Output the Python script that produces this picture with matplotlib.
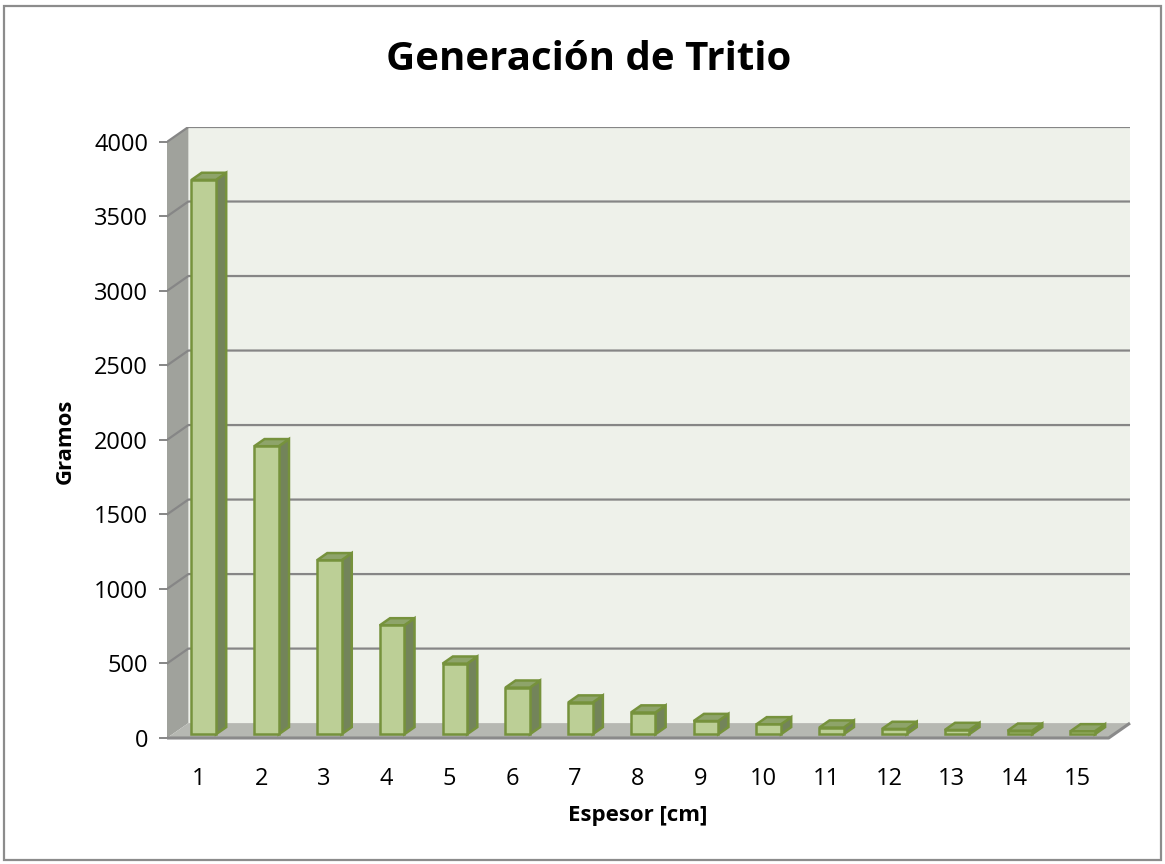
import matplotlib
matplotlib.use('Agg')
import matplotlib.pyplot as plt
from matplotlib.patches import Polygon, Rectangle

plt.rcParams['font.family'] = ['Open Sans', 'DejaVu Sans']

# tritium generated per blanket thickness
espesor = [1, 2, 3, 4, 5, 6, 7, 8, 9, 10, 11, 12, 13, 14, 15]
gramos = [3720, 1933, 1168, 731, 474, 313, 213, 146, 89, 67, 45, 36, 29, 24, 20]
y_ticks = [0, 500, 1000, 1500, 2000, 2500, 3000, 3500, 4000]

# oblique offset used to fake the 3D box (x in categories, y in grams)
DX = 0.34
DY = 100.0
Z0, Z1 = 0.25, 0.73   # front/back depth of the columns inside the box
BAR_W = 0.39

wall_c = '#eef1ea'
side_c = '#a0a29c'
floor_c = '#b6b8b2'
grid_c = '#868686'
face_c = '#bccf96'
top_c = '#8ea46a'
dark_c = '#73845a'
edge_c = '#76923c'

fig = plt.figure(figsize=(11.65, 8.64), dpi=100)
ax = fig.add_axes([167 / 1165, 126 / 864, 963 / 1165, 611 / 864])
ymax = y_ticks[-1]
x_lo, x_hi = espesor[0] - 0.5, espesor[-1] + 0.5

# back wall, side wall and floor
ax.add_patch(Rectangle((x_lo + DX, DY), x_hi - x_lo, ymax, fc=wall_c, ec='none', zorder=0))
ax.add_patch(Polygon([(x_lo, 0), (x_lo, ymax), (x_lo + DX, ymax + DY), (x_lo + DX, DY)],
                     closed=True, fc=side_c, ec='none', zorder=1))
ax.add_patch(Polygon([(x_lo, 0), (x_hi, 0), (x_hi + DX, DY), (x_lo + DX, DY)],
                     closed=True, fc=floor_c, ec='none', zorder=1))
ax.plot([x_lo, x_hi, x_hi + DX], [0, 0, DY], color='#8a8a8a', lw=2.2,
        solid_capstyle='butt', clip_on=False, zorder=2)

# gridlines run across the back wall and fold down the side wall
for v in y_ticks[1:]:
    ax.plot([x_lo, x_lo + DX, x_hi + DX], [v, v + DY, v + DY], color=grid_c, lw=1.6, zorder=2)

# columns
dxb = (Z1 - Z0) * DX
dyb = (Z1 - Z0) * DY
for x, v in zip(espesor, gramos):
    x0 = x - BAR_W / 2 + Z0 * DX
    x1 = x0 + BAR_W
    y0 = Z0 * DY
    y1 = y0 + v
    side = [(x1, y0), (x1 + dxb, y0 + dyb), (x1 + dxb, y1 + dyb), (x1, y1)]
    top = [(x0, y1), (x1, y1), (x1 + dxb, y1 + dyb), (x0 + dxb, y1 + dyb)]
    front = [(x0, y0), (x1, y0), (x1, y1), (x0, y1)]
    ax.add_patch(Polygon(side, closed=True, fc=dark_c, ec=edge_c, lw=1.8, zorder=3))
    ax.add_patch(Polygon(top, closed=True, fc=top_c, ec=edge_c, lw=1.8, zorder=3))
    ax.add_patch(Polygon(front, closed=True, fc=face_c, ec=edge_c, lw=1.8, zorder=4))

ax.set_xlim(x_lo, x_hi + DX)
ax.set_ylim(0, ymax + DY)
for s in ax.spines.values():
    s.set_visible(False)
ax.patch.set_visible(False)

ax.set_yticks(y_ticks)
ax.set_yticklabels([str(t) for t in y_ticks])
ax.tick_params(axis='y', length=5.5, width=1.4, color=grid_c, pad=8, labelsize=17)
ax.set_xticks(espesor)
ax.set_xticklabels([str(e) for e in espesor])
ax.tick_params(axis='x', length=0, pad=21, labelsize=17)

fig.text(589 / 1165, 1 - 60 / 864, 'Generación de Tritio', ha='center', va='center',
         fontsize=29, fontweight='bold')
fig.text(65 / 1165, 1 - 441 / 864, 'Gramos', ha='center', va='center', rotation=90,
         fontsize=16, fontweight='bold')
fig.text(638 / 1165, 1 - 815 / 864, 'Espesor [cm]', ha='center', va='center',
         fontsize=16, fontweight='bold')

# chart frame
fig.add_artist(Rectangle((4 / 1165, 4 / 864), 1157 / 1165, 854 / 864, transform=fig.transFigure,
                         fill=False, ec='#8c8c8c', lw=1.6))

fig.savefig('out.png', dpi=100)
